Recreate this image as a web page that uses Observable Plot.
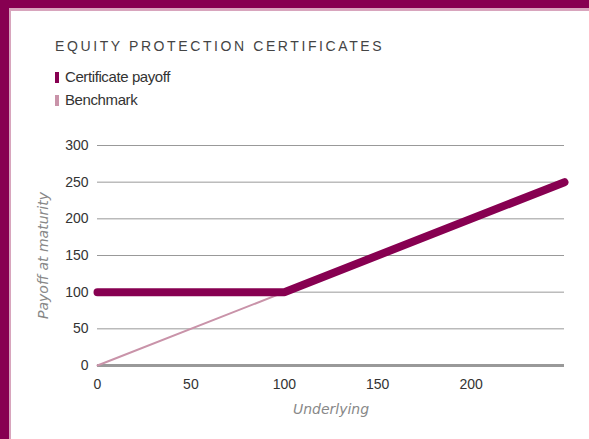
<!DOCTYPE html>
<html>
<head>
<meta charset="utf-8">
<script src="https://cdn.jsdelivr.net/npm/d3@7"></script>
<script src="https://cdn.jsdelivr.net/npm/@observablehq/plot@0.6"></script>
<style>
  html, body { margin: 0; padding: 0; background: #fff; }
  #page { position: relative; width: 589px; height: 439px; overflow: hidden; background: #fff; }
  #bandTop { position: absolute; left: 0; top: 0; width: 589px; height: 8px; background: #870051; }
  #pinkTop { position: absolute; left: 9px; top: 8px; width: 580px; height: 3px; background: #d8a5bd; }
  #bandLeft { position: absolute; left: 0; top: 0; width: 9px; height: 439px; background: #870051; }
  #pinkLeft { position: absolute; left: 9px; top: 8px; width: 2px; height: 431px; background: #d8a5bd; }
  #title { position: absolute; left: 55px; top: 38px; font-family: "Liberation Sans", sans-serif; font-size: 14px; letter-spacing: 2.6px; color: #444; white-space: nowrap; }
  .leg { position: absolute; left: 55px; font-family: "Liberation Sans", sans-serif; font-size: 15px; color: #333; white-space: nowrap; letter-spacing: -0.4px; }
  .leg i { display: inline-block; width: 4px; height: 11px; margin-right: 6px; vertical-align: -1px; }
  #chart { position: absolute; left: 0; top: 130px; }
</style>
</head>
<body>
<div id="page">
  <div id="bandTop"></div>
  <div id="bandLeft"></div>
  <div id="pinkTop"></div>
  <div id="pinkLeft"></div>
  <div id="title">EQUITY PROTECTION CERTIFICATES</div>
  <div class="leg" style="top:68px"><i style="background:#870051"></i>Certificate payoff</div>
  <div class="leg" style="top:91px"><i style="background:#c993a9"></i>Benchmark</div>
  <div id="chart"></div>
</div>
<script>
const payoffX = [0, 100, 250];
const payoffY = [100, 100, 250];
const benchX = [0, 100];
const benchY = [0, 100];
const xTicks = [0, 50, 100, 150, 200];
const yTicks = [0, 50, 100, 150, 200, 250, 300];
const gridTicks = [50, 100, 150, 200, 250, 300];
const xLabel = "Underlying";
const yLabel = "Payoff at maturity";

const payoff = payoffX.map((x, i) => ({x, y: payoffY[i]}));
const bench = benchX.map((x, i) => ({x, y: benchY[i]}));

const chart = Plot.plot({
  width: 589,
  height: 309,
  marginLeft: 97,
  marginRight: 25,
  marginTop: 15,
  marginBottom: 74,
  x: {domain: [0, 250]},
  y: {domain: [0, 300]},
  style: {fontFamily: "'Liberation Sans', Arial, sans-serif", fontSize: "14px", color: "#333", background: "transparent"},
  marks: [
    Plot.ruleY(gridTicks, {stroke: "#999", strokeWidth: 1, strokeOpacity: 1}),
    Plot.ruleY([0], {stroke: "#999", strokeWidth: 3, strokeOpacity: 1}),
    Plot.axisY(yTicks, {tickSize: 0, tickPadding: 9, label: null, fill: "#333", fontSize: 14}),
    Plot.axisX(xTicks, {tickSize: 0, tickPadding: 14, label: null, fill: "#333", fontSize: 14}),
    Plot.line(bench, {x: "x", y: "y", stroke: "#c993a9", strokeWidth: 2}),
    Plot.line(payoff, {x: "x", y: "y", stroke: "#870051", strokeWidth: 8, strokeLinecap: "round", strokeLinejoin: "miter"}),
    Plot.text([yLabel], {frameAnchor: "left", textAnchor: "middle", text: d => d, rotate: -90, dx: -54, fontStyle: "italic", fill: "#888", fontSize: 14, fontFamily: "'DejaVu Sans', sans-serif"}),
    Plot.text([xLabel], {frameAnchor: "bottom", text: d => d, dy: 48, fontStyle: "italic", fill: "#888", fontSize: 14, fontFamily: "'DejaVu Sans', sans-serif"})
  ]
});
document.getElementById("chart").appendChild(chart);
</script>
</body>
</html>
